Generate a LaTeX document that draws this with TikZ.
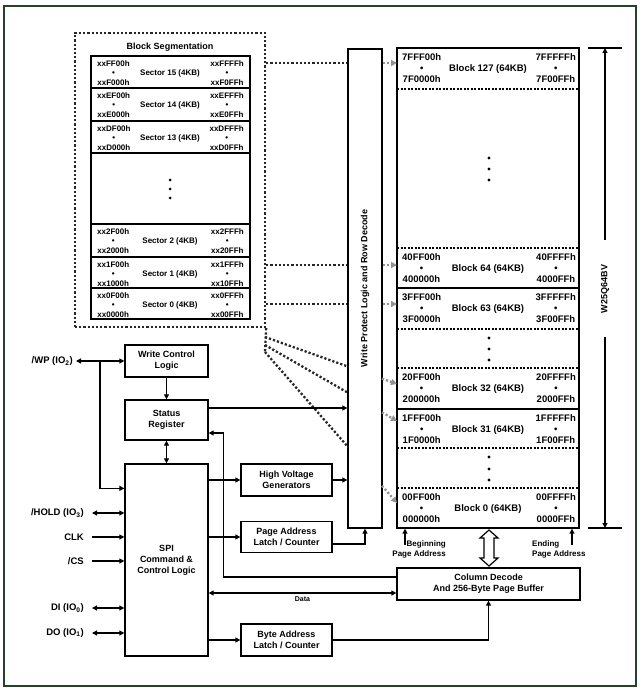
\documentclass[tikz,border=0pt]{standalone}
\usepackage{fontspec}
\setmainfont{Liberation Sans}
\usetikzlibrary{arrows.meta,calc}
\definecolor{framegreen}{RGB}{38,66,42}

\begin{document}
\begin{tikzpicture}[x=1pt, y=-1pt]
    \tikzstyle{box} = [rectangle, draw, line width=1.3pt, inner sep=0pt, align=center, font=\bfseries\fontsize{9}{11}\selectfont]
    \tikzstyle{addr} = [inner sep=0pt, align=center, font=\bfseries\fontsize{9.5}{11}\selectfont]
    \tikzstyle{secaddr} = [inner sep=0pt, align=center, font=\bfseries\fontsize{8}{9.5}\selectfont]
    \tikzstyle{pinlbl} = [inner sep=0pt, anchor=east, font=\bfseries\fontsize{9.5}{10}\selectfont]
    \tikzstyle{smalllbl} = [inner sep=0pt, font=\bfseries\fontsize{8}{10}\selectfont]
    \tikzstyle{wire} = [line width=1.2pt]
    \tikzstyle{sig} = [-{Triangle[length=5pt,width=5pt]}]
    \tikzstyle{bisig} = [{Triangle[length=5pt,width=5pt]}-{Triangle[length=5pt,width=5pt]}]
    \tikzstyle{dotline} = [line width=2.3pt, dash pattern=on 2.2pt off 2pt, black!85]
    \tikzstyle{greyarr} = [dotline, gray!85, -{Triangle[length=6pt,width=6pt]}]

    \useasboundingbox (0,0) rectangle (640,692);

    % Frame
    \draw[framegreen, line width=2pt] (4,6) rectangle (636,686);

    % Block segmentation
    \node[draw, dotline, minimum width=190pt, minimum height=294pt, inner sep=0pt] (seg) at (170,180) {};
    \node[secaddr, font=\bfseries\fontsize{9}{10}\selectfont] (segtitle) at (170,47) {Block Segmentation};
    \draw[line width=1.5pt] (91,56) rectangle (250,319);
    \foreach \yy in {88,121,153,224,257,288} \draw[line width=1.8pt] (91,\yy) -- (250,\yy);
    \foreach \n/\yy/\hx in {15/56/F, 14/88/E, 13/121/D, 2/224/2, 1/257/1, 0/288/0} {
        \node[secaddr, anchor=west] (sa\n) at (97,\yy+17) {xx\hx F00h\\\textbullet\\xx\hx 000h};
        \node[secaddr] (sn\n) at (170,\yy+17) {Sector \n\ (4KB)};
        \node[secaddr, anchor=east] (sb\n) at (244,\yy+17) {xx\hx FFFh\\\textbullet\\xx\hx 0FFh};
    }
    \foreach \yy in {180,189,198} \fill (170,\yy) circle (1.5pt);

    % Memory array
    \node[draw, line width=1.4pt, minimum width=182pt, minimum height=480pt, inner sep=0pt] (mem) at (488,288) {};
    \foreach \yy in {288,409} \draw[line width=1.4pt] (397,\yy) -- (579,\yy);
    \foreach \yy in {89,248,329,368,448,488} \draw[line width=1.1pt, dash pattern=on 2pt off 1.5pt] (397,\yy) -- (579,\yy);
    \foreach \n/\yy/\la/\lb/\ra/\rb in {127/48/7FFF00h/7F0000h/7FFFFFh/7F00FFh,
                                        64/248/40FF00h/400000h/40FFFFh/4000FFh,
                                        63/288/3FFF00h/3F0000h/3FFFFFh/3F00FFh,
                                        32/368/20FF00h/200000h/20FFFFh/2000FFh,
                                        31/409/1FFF00h/1F0000h/1FFFFFh/1F00FFh,
                                        0/488/00FF00h/000000h/00FFFFh/0000FFh} {
        \node[addr, anchor=west] (ba\n) at (402,\yy+20) {\la\\\textbullet\\\lb};
        \node[addr] (bn\n) at (488,\yy+21) {Block \n\ (64KB)};
        \node[addr, anchor=east] (bb\n) at (576,\yy+20) {\ra\\\textbullet\\\rb};
    }
    \foreach \yy in {158,169,180,338,349,360,457,469,480} \fill (489,\yy) circle (1.6pt);

    % Row decode
    \node[box, minimum width=34pt, minimum height=479pt] (rd) at (365,288.5) {};
    \node[rotate=90, font=\bfseries\fontsize{9}{10}\selectfont] (rdtxt) at (rd) {Write Protect Logic and Row Decode};

    % Chip size
    \coordinate (dimtop) at (605,48);
    \coordinate (dimbot) at (605,528);
    \coordinate (gaptop) at (605,240);
    \coordinate (gapbot) at (605,337);
    \draw[line width=1.3pt] (588,48) -- (622,48);
    \draw[line width=1.3pt] (588,528) -- (622,528);
    \node[rotate=90, font=\bfseries\fontsize{9}{10}\selectfont] (chip) at (605,289) {W25Q64BV};
    \draw[wire, sig] (gaptop) -- (dimtop);
    \draw[wire, sig] (gapbot) -- (dimbot);

    % Sector to block mapping
    \foreach \n/\yy in {127/63, 64/265, 63/304} {
        \coordinate (in\n) at (397,\yy);
        \draw[dotline] (in\n -| seg.east) -- (in\n -| rd.west);
        \draw[greyarr] (in\n -| rd.east) -- (in\n);
    }
    \coordinate (fan1) at (265,337);
    \coordinate (fan2) at (265,345);
    \coordinate (fan3) at (265,352);
    \coordinate (in32) at (397,384);
    \coordinate (in31) at (397,421);
    \coordinate (in0) at (397,503);
    \draw[dotline] (seg.south east) -- (fan3);
    \foreach \a/\b in {fan1/in32, fan2/in31, fan3/in0} {
        \draw[dotline] (\a) -- ($(\a)!0.629!(\b)$);
        \draw[greyarr] ($(\a)!0.886!(\b)$) -- (\b);
    }

    % Control blocks
    \node[box, minimum width=83pt, minimum height=32pt] (wcl) at (166.5,361) {Write Control\\Logic};
    \node[box, minimum width=83pt, minimum height=40pt] (sr) at (166.5,420) {Status\\Register};
    \node[box, minimum width=83pt, minimum height=192pt] (spi) at (166.5,560) {SPI\\Command \&\\Control Logic};
    \node[box, minimum width=91pt, minimum height=32pt] (hv) at (286.5,480) {High Voltage\\Generators};
    \node[box, minimum width=91pt, minimum height=31pt] (pal) at (286.5,537) {Page Address\\Latch / Counter};
    \node[box, minimum width=91pt, minimum height=32pt] (bal) at (286.5,640) {Byte Address\\Latch / Counter};
    \node[box, minimum width=183pt, minimum height=32pt] (cd) at (488.5,584) {Column Decode\\And 256-Byte Page Buffer};

    % Page buffer bus
    \draw[line width=1.2pt, fill=white] (489,530) -- (498,538) -- (494,538) -- (494,558) -- (498,558)
        -- (489,566) -- (480,558) -- (484,558) -- (484,538) -- (480,538) -- cycle;

    % Page address pointers
    \coordinate (begarr) at (405,545);
    \coordinate (endarr) at (572,545);
    \draw[wire, sig] (begarr) -- (begarr |- mem.south);
    \draw[wire, sig] (endarr) -- (endarr |- mem.south);
    \node[smalllbl, align=right, anchor=east] (begtxt) at (446,549) {Beginning\\Page Address};
    \node[smalllbl, align=left, anchor=west] (endtxt) at (532,549) {Ending\\Page Address};

    % Pins
    \node[pinlbl] (wp) at (73,361) {/WP (IO\textsubscript{2})};
    \node[pinlbl] (hold) at (84,513) {/HOLD (IO\textsubscript{3})};
    \node[pinlbl] (clk) at (84,537) {CLK};
    \node[pinlbl] (cs) at (84,561) {/CS};
    \node[pinlbl] (di) at (84,608) {DI (IO\textsubscript{0})};
    \node[pinlbl] (do) at (84,633) {DO (IO\textsubscript{1})};
    \coordinate (wpj) at (100,361);
    \draw[wire, bisig, shorten <=3pt] (wp.east) -- (wcl.west);
    \draw[wire, sig] (wpj) |- ([yshift=-25pt]spi.north west);
    \draw[wire, bisig, shorten <=8pt] (hold.east) -- (hold.east -| spi.west);
    \draw[wire, sig, shorten <=8pt] (clk.east) -- (clk.east -| spi.west);
    \draw[wire, sig, shorten <=8pt] (cs.east) -- (cs.east -| spi.west);
    \draw[wire, bisig, shorten <=8pt] (di.east) -- (di.east -| spi.west);
    \draw[wire, bisig, shorten <=8pt] (do.east) -- (do.east -| spi.west);

    % Internal connections
    \draw[wire, sig] (wcl.south) -- (sr.north);
    \draw[wire, bisig] (sr.south) -- (spi.north);
    \coordinate (srout) at ([yshift=12pt]sr.east);
    \coordinate (srin) at ([yshift=-13pt]sr.east);
    \coordinate (cdst) at ([yshift=7pt]cd.west);
    \coordinate (cdd) at ([yshift=-9pt]cd.west);
    \draw[wire, sig] (srout) -- (srout -| rd.west);
    \draw[wire, sig] (cdst) -| ([xshift=15pt]srin) -- (srin);
    \draw[wire, sig] (spi.east |- hv.west) -- (hv.west);
    \draw[wire, sig] (hv.east) -- (hv.east -| rd.west);
    \draw[wire, sig] (spi.east |- pal.west) -- (pal.west);
    \draw[wire, sig] ([yshift=-7pt]pal.east) -| (rd.south);
    \draw[wire, bisig] (cdd -| spi.east) -- node[smalllbl, font=\bfseries\fontsize{7}{8}\selectfont, below=3pt] (data) {Data} (cdd);
    \draw[wire, sig] (spi.east |- bal.west) -- (bal.west);
    \draw[wire, sig] (bal.east) -| (cd.south);

\end{tikzpicture}
\end{document}
